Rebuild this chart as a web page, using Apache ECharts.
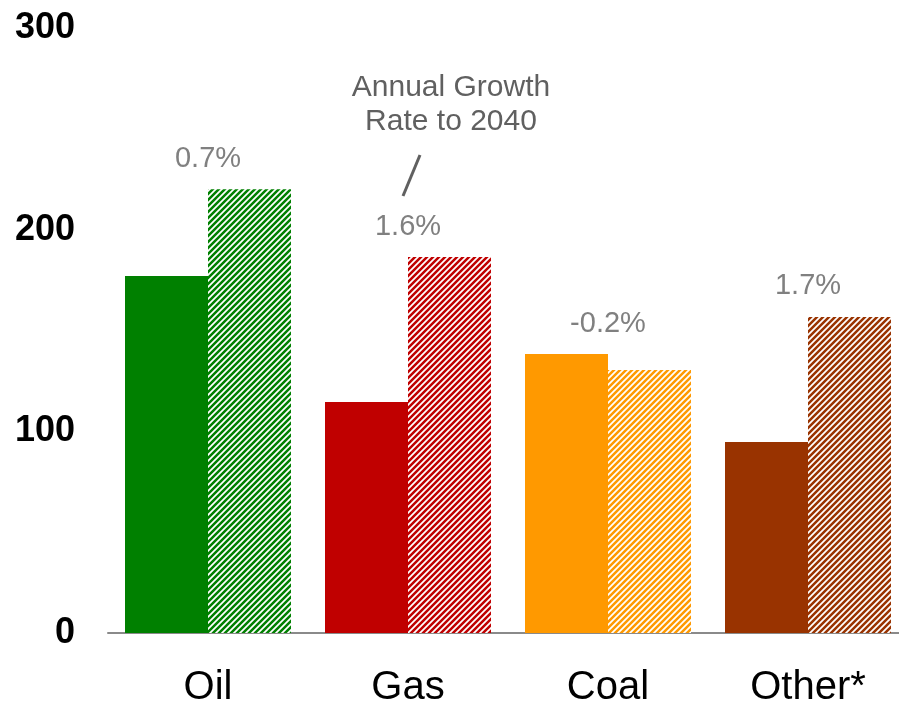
<!DOCTYPE html>
<html>
<head>
<meta charset="utf-8">
<script src="https://cdn.jsdelivr.net/npm/echarts@6/dist/echarts.min.js"></script>
<style>
  html, body { margin: 0; padding: 0; background: #fff; }
  #chart { width: 899px; height: 702px; }
</style>
</head>
<body>
<div id="chart"></div>
<script>
// Fuel categories and energy demand, current vs. 2040 outlook
const categories = ['Oil', 'Gas', 'Coal', 'Other*'];
const current = [177, 114.5, 138.3, 94.7];
const outlook2040 = [220, 186.4, 130.4, 156.7];
const growthLabels = ['0.7%', '1.6%', '-0.2%', '1.7%'];
const yTicks = [0, 100, 200, 300];

const solidColors = ['#008000', '#C00000', '#FF9900', '#993300'];

// Diagonal "/" stripe tile in a given colour on white
function stripes(color) {
  const s = 6;
  const c = document.createElement('canvas');
  c.width = s; c.height = s;
  const ctx = c.getContext('2d');
  ctx.fillStyle = '#ffffff';
  ctx.fillRect(0, 0, s, s);
  ctx.strokeStyle = color;
  ctx.lineWidth = 2.5;
  ctx.beginPath();
  ctx.moveTo(0, s); ctx.lineTo(s, 0);
  ctx.moveTo(-1, 1); ctx.lineTo(1, -1);
  ctx.moveTo(s - 1, s + 1); ctx.lineTo(s + 1, s - 1);
  ctx.stroke();
  return { image: c, repeat: 'repeat' };
}

const fontFamily = '"Liberation Sans", Arial, Helvetica, sans-serif';
const grey = '#606060';

const chart = echarts.init(document.getElementById('chart'), null, { renderer: 'canvas' });

chart.setOption({
  animation: false,
  backgroundColor: '#ffffff',
  grid: {
    left: 108, width: 800, top: 28, height: 605,
    containLabel: false, outerBoundsMode: 'none'
  },
  xAxis: {
    type: 'category',
    data: categories,
    axisLine: { show: true, lineStyle: { color: '#8a8a8a', width: 2 } },
    axisTick: { show: false },
    axisLabel: {
      color: '#000000', fontSize: 40, fontFamily: fontFamily,
      margin: 35, lineHeight: 40
    }
  },
  yAxis: {
    type: 'value',
    min: yTicks[0],
    max: yTicks[yTicks.length - 1],
    interval: yTicks[1] - yTicks[0],
    axisLine: { show: false },
    axisTick: { show: false },
    splitLine: { show: false },
    axisLabel: {
      color: '#000000', fontSize: 36, fontWeight: 'bold',
      fontFamily: fontFamily, margin: 33
    }
  },
  series: [
    {
      name: 'Current',
      type: 'bar',
      barGap: '0%',
      barCategoryGap: '17%',
      data: current.map((v, i) => ({ value: v, itemStyle: { color: solidColors[i] } }))
    },
    {
      name: '2040',
      type: 'bar',
      data: outlook2040.map((v, i) => ({ value: v, itemStyle: { color: stripes(solidColors[i]) } }))
    },
    {
      name: 'Growth',
      type: 'scatter',
      symbolSize: 0,
      silent: true,
      z: 5,
      data: current.map((v, i) => Math.max(v, outlook2040[i])),
      label: {
        show: true,
        position: 'top',
        distance: 16,
        color: grey,
        fontSize: 29,
        fontFamily: fontFamily,
        formatter: p => growthLabels[p.dataIndex]
      }
    }
  ],
  graphic: [
    {
      type: 'text',
      x: 451,
      y: 71,
      style: {
        text: 'Annual Growth\nRate to 2040',
        align: 'center',
        verticalAlign: 'top',
        fill: grey,
        fontSize: 30,
        lineHeight: 34,
        fontFamily: fontFamily
      }
    },
    {
      type: 'line',
      shape: { x1: 420, y1: 155, x2: 403, y2: 196 },
      style: { stroke: grey, lineWidth: 3 }
    }
  ]
});
</script>
</body>
</html>
